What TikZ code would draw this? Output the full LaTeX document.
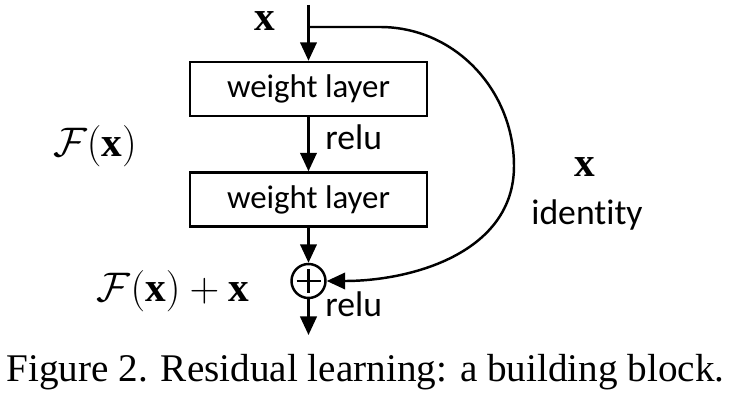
\RequirePackage{fix-cm}
\documentclass[tikz,border=0pt]{standalone}
\usepackage{fontspec}
\setmainfont{Liberation Serif}
\newfontfamily\calibri[Ligatures=NoCommon]{Carlito}
\usetikzlibrary{arrows.meta}

\begin{document}
\begin{tikzpicture}[
    layer/.style={draw, line width=1.4pt, minimum width=4.74cm, minimum height=1.08cm,
      inner sep=0pt, font=\calibri\fontsize{18.7}{22}\selectfont},
    flow/.style={line width=1.4pt, -{Triangle[length=0.37cm,width=0.33cm]}},
    mathlbl/.style={inner sep=0pt, anchor=base, font=\fontsize{23.5}{28}\selectfont},
    txtlbl/.style={inner sep=0pt, font=\calibri\fontsize{20.3}{24}\selectfont}
  ]
  \useasboundingbox (0,0) rectangle (14.68,8.22);

  % input and the two weight layers
  \coordinate (top) at (6.17,8.12);
  \coordinate (split) at (6.17,7.68);
  \node[layer] (wl1) at (6.17,6.44) {weight layer};
  \node[layer] (wl2) at (6.17,4.23) {weight layer};

  % addition
  \node[draw, circle, line width=1.4pt, minimum size=0.68cm, inner sep=0pt] (add) at (6.17,2.6) {};
  \draw[line width=1.4pt] ([xshift=-0.24cm]add.center) -- ([xshift=0.24cm]add.center);
  \draw[line width=1.4pt] ([yshift=-0.24cm]add.center) -- ([yshift=0.24cm]add.center);
  \coordinate (out) at (6.17,1.52);

  \draw[flow] (top) -- (wl1);
  \draw[flow] (wl1) -- (wl2);
  \draw[flow] (wl2) -- (add);
  \draw[flow] (add) -- (out);

  % shortcut
  \coordinate (bend) at (7.6,7.68);
  \coordinate (far) at (10.28,4.9);
  \draw[flow] (split) -- (bend) to[out=0,in=90] (far) to[out=-90,in=0] (add);

  % labels
  \node[mathlbl] (xin) at (5.3,7.6) {$\mathbf{x}$};
  \node[mathlbl] (fx) at (1.9,5.08) {$\mathcal{F}(\mathbf{x})$};
  \node[mathlbl] (fxx) at (3.46,2.18) {$\mathcal{F}(\mathbf{x})+\mathbf{x}$};
  \node[mathlbl] (xid) at (11.7,4.68) {$\mathbf{x}$};
  \node[txtlbl, anchor=base] (id) at (11.74,3.72) {identity};
  \node[txtlbl, anchor=base west] (relu1) at (6.5,5.22) {relu};
  \node[txtlbl, anchor=base west] (relu2) at (6.5,1.88) {relu};

  \node[inner sep=0pt, anchor=base, font=\fontsize{22.3}{26}\selectfont] (cap) at (7.31,0.58)
    {Figure 2. Residual learning: a building block.};
\end{tikzpicture}
\end{document}
